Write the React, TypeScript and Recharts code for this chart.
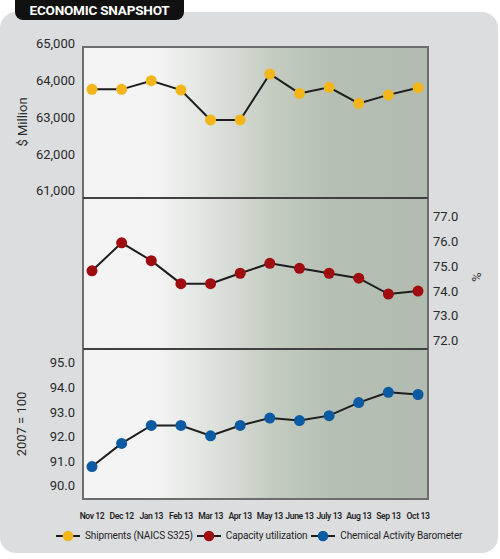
import React from 'react';
import { LineChart, Line, XAxis, YAxis, Label } from 'recharts';

const months = ['Nov 12', 'Dec 12', 'Jan 13', 'Feb 13', 'Mar 13', 'Apr 13', 'May 13', 'June 13', 'July 13', 'Aug 13', 'Sep 13', 'Oct 13'];
const shipments = [63850, 63850, 64085, 63830, 63020, 63020, 64267, 63740, 63905, 63470, 63700, 63895];
const capacity = [74.96, 76.09, 75.37, 74.44, 74.44, 74.86, 75.26, 75.06, 74.86, 74.66, 74.02, 74.14];
const barometer = [90.92, 91.86, 92.59, 92.59, 92.17, 92.59, 92.89, 92.79, 92.99, 93.52, 93.94, 93.85];

const shipmentTicks = [61000, 62000, 63000, 64000, 65000];
const capacityTicks = [72, 73, 74, 75, 76, 77];
const barometerTicks = [90, 91, 92, 93, 94, 95];

const legendItems = [
  { name: 'Shipments (NAICS S325)', color: '#f2b61b' },
  { name: 'Capacity utilization', color: '#a00d11' },
  { name: 'Chemical Activity Barometer', color: '#0c5ba2' },
];

const data = months.map((m, i) => ({
  month: m,
  shipments: shipments[i],
  capacity: capacity[i],
  barometer: barometer[i],
}));

const FONT = 'Roboto, "Open Sans", sans-serif';
const W = 500;
const LEFT = 83;
const RIGHT = 72;
const PAD = { left: 9, right: 10 };

const YTick = (fmt: (v: number) => string, anchor: 'start' | 'end') => (props: any) => (
  <text x={props.x} y={props.y - 3.5} dy="0.36em" textAnchor={anchor} fontSize={13} fill="#2a2a2a" fontFamily={FONT}>
    {fmt(props.payload.value)}
  </text>
);

const XTick = (props: any) => (
  <text x={props.x} y={props.y + 20} textAnchor="middle" fontSize={8.6} fontWeight={600} fill="#1f1f1f" fontFamily={FONT} letterSpacing={-0.4}>
    {props.payload.value}
  </text>
);

const title = (text: string, x: number, y: number, angle: number) => () => (
  <text transform={`translate(${x},${y}) rotate(${angle})`} textAnchor="middle" dominantBaseline="central" fontSize={13} fill="#2a2a2a" fontFamily={FONT}>
    {text}
  </text>
);

const dot = (color: string) => ({ r: 5.5, fill: color, stroke: 'none' });

export default function App() {
  return (
    <div style={{ position: 'absolute', left: 0, top: 0, width: W, height: 559, background: '#fff', fontFamily: FONT, overflow: 'hidden' }}>
      <div style={{ position: 'absolute', left: 0, top: 12, width: 498, height: 541, background: '#dcdddf', borderRadius: 16 }} />
      <div style={{ position: 'absolute', left: 15, top: -8, width: 169, height: 28, background: '#111', borderRadius: 8, color: '#fff', fontWeight: 700, fontSize: 13.5, letterSpacing: -0.2, lineHeight: '20px', paddingTop: 8, boxSizing: 'border-box', textAlign: 'center' }}>
        ECONOMIC SNAPSHOT
      </div>
      <div
        style={{
          position: 'absolute', left: LEFT - 1, top: 46, width: W - LEFT - RIGHT + 2, height: 454, boxSizing: 'border-box',
          border: '2px solid #6c6d6c',
          background: 'linear-gradient(to right, #f4f4f4 0%, #f2f3f2 22%, #dde1dc 38%, #c4ccc2 55%, #b6bfb4 72%, #b2bbb0 100%)',
        }}
      />
      <div style={{ position: 'absolute', left: LEFT, top: 197, width: W - LEFT - RIGHT, height: 2, background: '#3f403f' }} />
      <div style={{ position: 'absolute', left: LEFT, top: 348, width: W - LEFT - RIGHT, height: 2, background: '#3f403f' }} />

      <div style={{ position: 'absolute', left: 0, top: 0 }}>
        <LineChart width={W} height={199} data={data} margin={{ top: 47, right: RIGHT, bottom: 1, left: 0 }}>
          <XAxis dataKey="month" hide padding={PAD} />
          <YAxis
            width={LEFT}
            domain={[60900, 65000]}
            ticks={shipmentTicks}
            interval={0}
            axisLine={false}
            tickLine={false}
            tickSize={0}
            tickMargin={8}
            tick={YTick((v) => v.toLocaleString('en-US'), 'end')}
          >
            <Label content={title('$ Million', 22, 122, -90)} />
          </YAxis>
          <Line dataKey="shipments" stroke="#1d1d1d" strokeWidth={2} dot={dot('#f2b61b')} isAnimationActive={false} />
        </LineChart>
      </div>

      <div style={{ position: 'absolute', left: 0, top: 198 }}>
        <LineChart width={W} height={151} data={data} margin={{ top: 0, right: 0, bottom: 0, left: LEFT }}>
          <XAxis dataKey="month" hide padding={PAD} />
          <YAxis
            orientation="right"
            width={RIGHT}
            domain={[71.8, 77.9]}
            ticks={capacityTicks}
            interval={0}
            axisLine={false}
            tickLine={false}
            tickSize={0}
            tickMargin={5}
            tick={YTick((v) => v.toFixed(1), 'start')}
          >
            <Label content={title('%', 476, 79, 90)} />
          </YAxis>
          <Line dataKey="capacity" stroke="#1d1d1d" strokeWidth={2} dot={dot('#a00d11')} isAnimationActive={false} />
        </LineChart>
      </div>

      <div style={{ position: 'absolute', left: 0, top: 349 }}>
        <LineChart width={W} height={210} data={data} margin={{ top: 0, right: RIGHT, bottom: 0, left: 0 }}>
          <XAxis
            dataKey="month"
            height={60}
            padding={PAD}
            axisLine={false}
            tickLine={false}
            tickSize={0}
            tickMargin={0}
            interval={0}
            tick={XTick}
          />
          <YAxis
            width={LEFT}
            domain={[89.6, 95.7]}
            ticks={barometerTicks}
            interval={0}
            axisLine={false}
            tickLine={false}
            tickSize={0}
            tickMargin={8}
            tick={YTick((v) => v.toFixed(1), 'end')}
          >
            <Label content={title('2007 = 100', 21.5, 75, -90)} />
          </YAxis>
          <Line dataKey="barometer" stroke="#1d1d1d" strokeWidth={2} dot={dot('#0c5ba2')} isAnimationActive={false} />
        </LineChart>
      </div>

      <div style={{ position: 'absolute', left: 56, top: 527, height: 17, display: 'flex', alignItems: 'center', fontSize: 10, color: '#1f1f1f', letterSpacing: -0.15, whiteSpace: 'nowrap' }}>
        {legendItems.map((item) => (
          <div key={item.name} style={{ display: 'flex', alignItems: 'center', marginRight: 4 }}>
            <svg width={24} height={12} style={{ marginRight: 5 }}>
              <line x1={0} y1={6} x2={24} y2={6} stroke="#1d1d1d" strokeWidth={2} />
              <circle cx={12} cy={6} r={5.3} fill={item.color} />
            </svg>
            <span>{item.name}</span>
          </div>
        ))}
      </div>
    </div>
  );
}
